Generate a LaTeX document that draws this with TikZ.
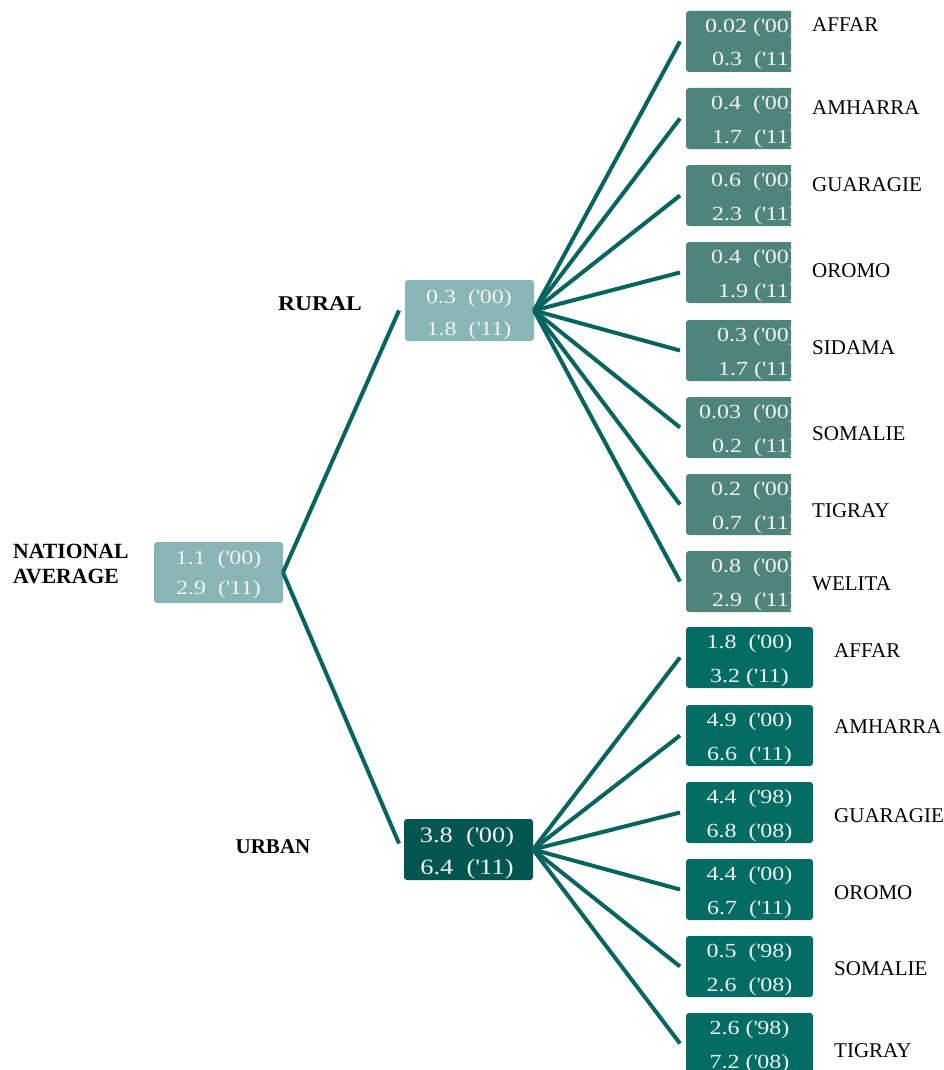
\documentclass[tikz,border=0pt]{standalone}
\usepackage{fontspec}
\setmainfont{Liberation Serif}
\newfontfamily\boxfont[FakeStretch=1.2]{Liberation Serif}
\newfontfamily\widebold[FakeStretch=1.12]{Liberation Serif}
\newcommand{\q}{\textquotesingle}
\definecolor{lightbox}{HTML}{89B6B4}
\definecolor{ruralleaf}{HTML}{4F847D}
\definecolor{urbanleaf}{HTML}{016C64}
\definecolor{urbanbox}{HTML}{03554F}
\definecolor{connc}{HTML}{05645D}
\definecolor{txtc}{HTML}{F0F4F3}
\newcommand{\rleaf}[6]{%
  \begin{scope}
    \clip (686,#2) rectangle (791,{#2+61});
    \node[leafbox, fill=ruralleaf, minimum width=125pt] (#1) at (686,#2) {};
    \node[boxtxt, anchor=base east] (#1a) at (797,{#2+21.5}) {#3};
    \node[boxtxt, anchor=base east] (#1b) at (797,{#2+55}) {#4};
  \end{scope}
  \node[lbl] (#1l) at (812,#6) {#5};
}
\newcommand{\uleaf}[6]{%
  \node[leafbox, fill=urbanleaf, minimum width=127pt] (#1) at (686,#2) {};
  \node[boxtxt, anchor=base] (#1a) at (749.5,{#2+21.5}) {#3};
  \node[boxtxt, anchor=base] (#1b) at (749.5,{#2+55.5}) {#4};
  \node[lbl] (#1l) at (834,#6) {#5};
}
\begin{document}
\begin{tikzpicture}[x=1pt,y=-1pt,
  leafbox/.style={rounded corners=3pt, inner sep=0pt, outer sep=0pt, anchor=north west, minimum height=61pt},
  mainbox/.style={rounded corners=3pt, inner sep=0pt, outer sep=0pt, anchor=north west, minimum width=129pt, minimum height=61pt},
  boxtxt/.style={inner sep=0pt, text=txtc, font=\boxfont\fontsize{20}{24}\selectfont},
  bigtxt/.style={inner sep=0pt, text=txtc, font=\boxfont\fontsize{22}{26}\selectfont},
  lbl/.style={inner sep=0pt, anchor=base west, font=\fontsize{21}{25}\selectfont},
  blbl/.style={inner sep=0pt, font=\bfseries\fontsize{21}{25}\selectfont},
  conn/.style={draw=connc, line width=4pt}]
\useasboundingbox (0,0) rectangle (944,1070);

% national
\node[mainbox, fill=lightbox] (nat) at (154,542) {};
\node[boxtxt, anchor=base] (nat1) at (218.5,564) {1.1\ \ (\q00)};
\node[boxtxt, anchor=base] (nat2) at (218.5,594) {2.9\ \ (\q11)};
\node[blbl, anchor=base west, font=\bfseries\fontsize{21.7}{25}\selectfont] (natl1) at (13,558) {NATIONAL};
\node[blbl, anchor=base west, font=\bfseries\fontsize{21.7}{25}\selectfont] (natl2) at (13,583) {AVERAGE};

% rural
\node[mainbox, fill=lightbox] (rural) at (405,280) {};
\node[boxtxt, anchor=base] (rural1) at (469,303) {0.3\ \ (\q00)};
\node[boxtxt, anchor=base] (rural2) at (469,335) {1.8\ \ (\q11)};
\node[blbl, anchor=base, font=\widebold\bfseries\fontsize{21}{25}\selectfont] (rurall) at (320,310) {RURAL};

% urban
\node[mainbox, fill=urbanbox] (urban) at (404,819) {};
\node[bigtxt, anchor=base] (urban1) at (467,842) {3.8\ \ (\q00)};
\node[bigtxt, anchor=base] (urban2) at (467,874) {6.4\ \ (\q11)};
\node[blbl, anchor=base] (urbanl) at (273,853) {URBAN};

% rural leaves
\rleaf{r1}{11}{0.02 (\q00)}{0.3\ \ (\q11)}{AFFAR}{32}
\rleaf{r2}{88}{0.4\ \ (\q00)}{1.7\ \ (\q11)}{AMHARRA}{114}
\rleaf{r3}{165}{0.6\ \ (\q00)}{2.3\ \ (\q11)}{GUARAGIE}{191}
\rleaf{r4}{242}{0.4\ \ (\q00)}{1.9 (\q11)}{OROMO}{277}
\rleaf{r5}{320}{0.3 (\q00)}{1.7 (\q11)}{SIDAMA}{354}
\rleaf{r6}{397}{0.03\ \ (\q00)}{0.2\ \ (\q11)}{SOMALIE}{440}
\rleaf{r7}{474}{0.2\ \ (\q00)}{0.7\ \ (\q11)}{TIGRAY}{517}
\rleaf{r8}{551}{0.8\ \ (\q00)}{2.9\ \ (\q11)}{WELITA}{590}

% urban leaves
\uleaf{u1}{627}{1.8\ \ (\q00)}{3.2 (\q11)}{AFFAR}{657}
\uleaf{u2}{705}{4.9\ \ (\q00)}{6.6\ \ (\q11)}{AMHARRA}{733}
\uleaf{u3}{782}{4.4\ \ (\q98)}{6.8\ \ (\q08)}{GUARAGIE}{822}
\uleaf{u4}{859}{4.4\ \ (\q00)}{6.7\ \ (\q11)}{OROMO}{899}
\uleaf{u5}{936}{0.5\ \ (\q98)}{2.6\ \ (\q08)}{SOMALIE}{975}
\uleaf{u6}{1013}{2.6 (\q98)}{7.2 (\q08)}{TIGRAY}{1057}

% connectors
\draw[conn] (nat.east) -- ([xshift=-6pt]rural.west);
\draw[conn] (nat.east) -- ([xshift=-5pt,yshift=6pt]urban.west);
\foreach \i in {1,...,8} \draw[conn] (rural.east) -- ([xshift=-6pt]r\i.west);
\foreach \i in {1,...,6} \draw[conn] (urban.east) -- ([xshift=-6pt]u\i.west);
\end{tikzpicture}
\end{document}
